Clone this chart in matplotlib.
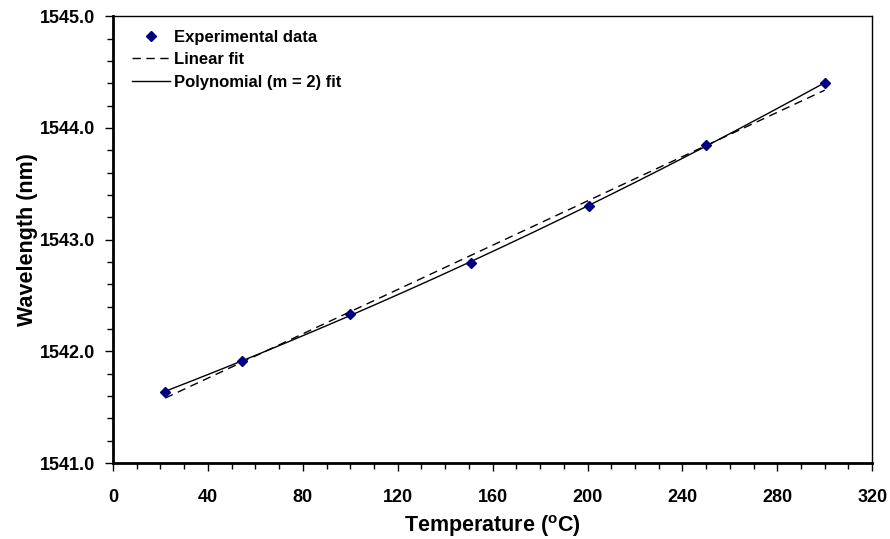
import numpy as np
import matplotlib
matplotlib.use("Agg")
import matplotlib.pyplot as plt
from matplotlib.ticker import MultipleLocator, FormatStrFormatter

plt.rcParams["font.family"] = ["Liberation Sans", "DejaVu Sans"]
plt.rcParams["font.weight"] = "bold"
plt.rcParams["mathtext.fontset"] = "custom"
plt.rcParams["mathtext.rm"] = "Liberation Sans:bold"
plt.rcParams["mathtext.bf"] = "Liberation Sans:bold"

# Measured grating wavelength versus temperature
temperature = [22, 54.5, 100, 151, 200.5, 250, 300]
wavelength = [1541.64, 1541.913, 1542.337, 1542.79, 1543.30, 1543.85, 1544.40]

x_ticks = [0, 40, 80, 120, 160, 200, 240, 280, 320]
y_ticks = [1541.0, 1542.0, 1543.0, 1544.0, 1545.0]

t = np.array(temperature)
w = np.array(wavelength)
t_fit = np.linspace(t.min(), t.max(), 200)
lin = np.polyval(np.polyfit(t, w, 1), t_fit)
quad = np.polyval(np.polyfit(t, w, 2), t_fit)

fig = plt.figure(figsize=(8.9, 5.39), dpi=100)
ax = fig.add_axes([0.127, 0.141, 0.853, 0.829])

ax.plot(t, w, linestyle="none", marker="D", markersize=5.5,
        color="#000080", label="Experimental data", zorder=3)
ax.plot(t_fit, lin, color="black", linewidth=1.0, dashes=(6, 4),
        label="Linear fit")
ax.plot(t_fit, quad, color="black", linewidth=1.0,
        label="Polynomial (m = 2) fit")

ax.set_xlim(x_ticks[0], x_ticks[-1])
ax.set_ylim(y_ticks[0], y_ticks[-1])
ax.set_xticks(x_ticks)
ax.set_yticks(y_ticks)
ax.xaxis.set_minor_locator(MultipleLocator(10))
ax.yaxis.set_minor_locator(MultipleLocator(0.2))
ax.yaxis.set_major_formatter(FormatStrFormatter("%.1f"))

ax.tick_params(axis="both", which="major", direction="out", length=6,
               width=1, labelsize=13)
ax.tick_params(axis="x", which="major", pad=13)
ax.tick_params(axis="y", which="major", pad=7)
ax.tick_params(axis="both", which="minor", direction="out", length=4,
               width=1)

for side in ("left", "bottom"):
    ax.spines[side].set_linewidth(2.0)
for side in ("top", "right"):
    ax.spines[side].set_linewidth(1.0)

ax.set_xlabel(r"Temperature ($^{\mathrm{o}}$C)", fontsize=15.5,
              fontweight="bold", labelpad=5)
ax.set_ylabel("Wavelength (nm)", fontsize=15.5, fontweight="bold",
              labelpad=1)

leg = ax.legend(loc="upper left", frameon=False, fontsize=12,
                handlelength=2.3, handletextpad=0.25, labelspacing=0.45,
                borderaxespad=0.0, bbox_to_anchor=(0.016, 0.985))
for txt in leg.get_texts():
    txt.set_fontweight("bold")

fig.savefig("out.png", dpi=100)
